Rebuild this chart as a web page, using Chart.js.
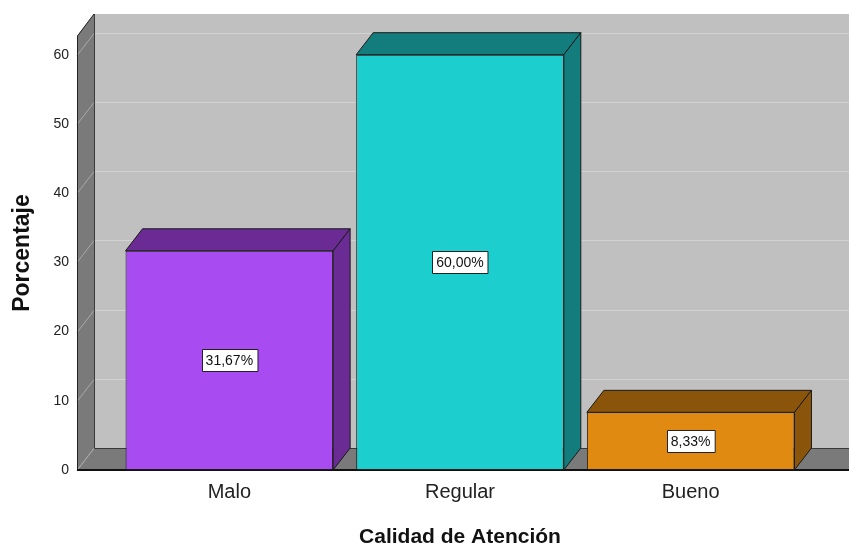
<!DOCTYPE html>
<html>
<head>
<meta charset="utf-8">
<script src="https://cdn.jsdelivr.net/npm/chart.js@4.4.0/dist/chart.umd.min.js"></script>
<style>
  html, body { margin: 0; padding: 0; background: #fff; }
  #contenedor { width: 849px; height: 546px; }
</style>
</head>
<body>
<div id="contenedor"><canvas id="graficoBarras"></canvas></div>
<script>
// Datos de la gráfica
const categorias = ['Malo', 'Regular', 'Bueno'];
const porcentajes = [31.67, 60.00, 8.33];
const marcasY = [0, 10, 20, 30, 40, 50, 60];

// Colores: cara frontal y caras laterales/superior
const coloresFrente = ['#a84bf0', '#1ccece', '#e08a12'];
const coloresLado = ['#6a2c94', '#137d7d', '#8a550a'];

// Profundidad del efecto 3D (px)
const PROF_X = 17;
const PROF_Y = 22;
// Distancia entre la pared izquierda y el área de categorías
const HUECO_IZQ = 37;

const fuente = "'Liberation Sans', Arial, sans-serif";

function formatoPorcentaje(v) {
  return v.toFixed(2).replace('.', ',') + '%';
}

// Paredes, piso y cuadrícula del fondo
const fondo3d = {
  id: 'fondo3d',
  beforeDatasetsDraw(chart) {
    const { ctx, chartArea, scales } = chart;
    const y = scales.y;
    const x0 = chartArea.left - HUECO_IZQ;
    const xf = chart.width;
    const arriba = chartArea.top;
    const abajo = chartArea.bottom;

    ctx.save();
    // pared del fondo
    ctx.fillStyle = '#c0c0c0';
    ctx.fillRect(x0 + PROF_X, arriba - PROF_Y, xf - x0 - PROF_X, abajo - arriba);

    // piso
    ctx.fillStyle = '#7a7a7a';
    ctx.beginPath();
    ctx.moveTo(x0, abajo);
    ctx.lineTo(x0 + PROF_X, abajo - PROF_Y);
    ctx.lineTo(xf, abajo - PROF_Y);
    ctx.lineTo(xf, abajo);
    ctx.closePath();
    ctx.fill();

    // pared izquierda
    ctx.beginPath();
    ctx.moveTo(x0, arriba);
    ctx.lineTo(x0 + PROF_X, arriba - PROF_Y);
    ctx.lineTo(x0 + PROF_X, abajo - PROF_Y);
    ctx.lineTo(x0, abajo);
    ctx.closePath();
    ctx.fill();

    // cuadrícula
    ctx.lineWidth = 1;
    marcasY.forEach(v => {
      const py = Math.round(y.getPixelForValue(v)) + 0.5;
      ctx.strokeStyle = '#a9a9a9';
      ctx.beginPath();
      ctx.moveTo(x0, py);
      ctx.lineTo(x0 + PROF_X, py - PROF_Y);
      ctx.stroke();
      if (v > 0) {
        ctx.strokeStyle = '#d2d2d2';
        ctx.beginPath();
        ctx.moveTo(x0 + PROF_X, py - PROF_Y);
        ctx.lineTo(xf, py - PROF_Y);
        ctx.stroke();
      }
    });

    // esquina interior
    ctx.strokeStyle = '#3a3a3a';
    ctx.beginPath();
    ctx.moveTo(x0 + PROF_X + 0.5, arriba - PROF_Y);
    ctx.lineTo(x0 + PROF_X + 0.5, abajo - PROF_Y + 0.5);
    ctx.lineTo(xf, abajo - PROF_Y + 0.5);
    ctx.stroke();

    // borde de la pared izquierda
    ctx.strokeStyle = '#222';
    ctx.beginPath();
    ctx.moveTo(x0 + PROF_X, arriba - PROF_Y);
    ctx.lineTo(x0 + 0.5, arriba);
    ctx.lineTo(x0 + 0.5, abajo);
    ctx.stroke();

    // borde frontal del piso
    ctx.strokeStyle = '#111';
    ctx.lineWidth = 2;
    ctx.beginPath();
    ctx.moveTo(x0, abajo);
    ctx.lineTo(xf, abajo);
    ctx.stroke();
    ctx.restore();
  }
};

// Caras superior y lateral de cada barra, más la etiqueta de valor
const barras3d = {
  id: 'barras3d',
  afterDatasetsDraw(chart) {
    const { ctx } = chart;
    const meta = chart.getDatasetMeta(0);
    ctx.save();
    ctx.lineWidth = 1;
    ctx.strokeStyle = '#1a1a1a';
    ctx.lineJoin = 'round';
    meta.data.forEach((barra, i) => {
      const { x, y, base, width } = barra.getProps(['x', 'y', 'base', 'width'], true);
      const izq = x - width / 2;
      const der = x + width / 2;

      ctx.fillStyle = coloresLado[i];
      // cara superior
      ctx.beginPath();
      ctx.moveTo(izq, y);
      ctx.lineTo(izq + PROF_X, y - PROF_Y);
      ctx.lineTo(der + PROF_X, y - PROF_Y);
      ctx.lineTo(der, y);
      ctx.closePath();
      ctx.fill();
      ctx.stroke();
      // cara lateral
      ctx.beginPath();
      ctx.moveTo(der, y);
      ctx.lineTo(der + PROF_X, y - PROF_Y);
      ctx.lineTo(der + PROF_X, base - PROF_Y);
      ctx.lineTo(der, base);
      ctx.closePath();
      ctx.fill();
      ctx.stroke();

      // etiqueta con el valor
      const texto = formatoPorcentaje(porcentajes[i]);
      ctx.font = '14px ' + fuente;
      const ancho = ctx.measureText(texto).width + 8;
      const alto = 22;
      const cy = (y + base) / 2;
      const bx = Math.round(x - ancho / 2) + 0.5;
      const by = Math.round(cy - alto / 2) + 0.5;
      ctx.fillStyle = '#fff';
      ctx.fillRect(bx, by, ancho, alto);
      ctx.strokeStyle = '#222';
      ctx.strokeRect(bx, by, ancho, alto);
      ctx.fillStyle = '#111';
      ctx.textAlign = 'center';
      ctx.textBaseline = 'middle';
      ctx.fillText(texto, x, cy + 1);
      ctx.strokeStyle = '#1a1a1a';
    });
    ctx.restore();
  }
};

const ctx = document.getElementById('graficoBarras').getContext('2d');

new Chart(ctx, {
  type: 'bar',
  data: {
    labels: categorias,
    datasets: [{
      data: porcentajes,
      backgroundColor: coloresFrente,
      borderColor: '#1a1a1a',
      borderWidth: 1,
      borderSkipped: false,
      barPercentage: 0.9,
      categoryPercentage: 1
    }]
  },
  options: {
    responsive: true,
    maintainAspectRatio: false,
    devicePixelRatio: 1,
    animation: false,
    layout: { padding: { top: 36, right: 43, left: 0, bottom: 0 } },
    plugins: {
      legend: { display: false },
      tooltip: { enabled: false }
    },
    scales: {
      x: {
        grid: { display: false, drawTicks: false },
        border: { display: false },
        ticks: { padding: 10, color: '#222', font: { family: fuente, size: 20 } },
        title: {
          display: true,
          text: 'Calidad de Atención',
          color: '#111',
          padding: { top: 0, bottom: -4 },
          font: { family: fuente, size: 21, weight: 'bold' }
        },
        afterFit: s => { s.height = 76; }
      },
      y: {
        min: 0,
        max: 62.7,
        afterBuildTicks: s => { s.ticks = marcasY.map(v => ({ value: v })); },
        grid: { display: false, drawTicks: false },
        border: { display: false },
        ticks: { padding: 45, color: '#222', font: { family: fuente, size: 14 } },
        title: {
          display: true,
          text: 'Porcentaje',
          color: '#111',
          padding: { top: 9, bottom: 0 },
          font: { family: fuente, size: 23, weight: 'bold' }
        },
        // el espacio de las etiquetas no debe empujar el área del gráfico
        afterFit: s => {
          s.width = 114;
          s.paddingTop = 8;
          s.paddingBottom = 8;
        }
      }
    }
  },
  plugins: [fondo3d, barras3d]
});
</script>
</body>
</html>
